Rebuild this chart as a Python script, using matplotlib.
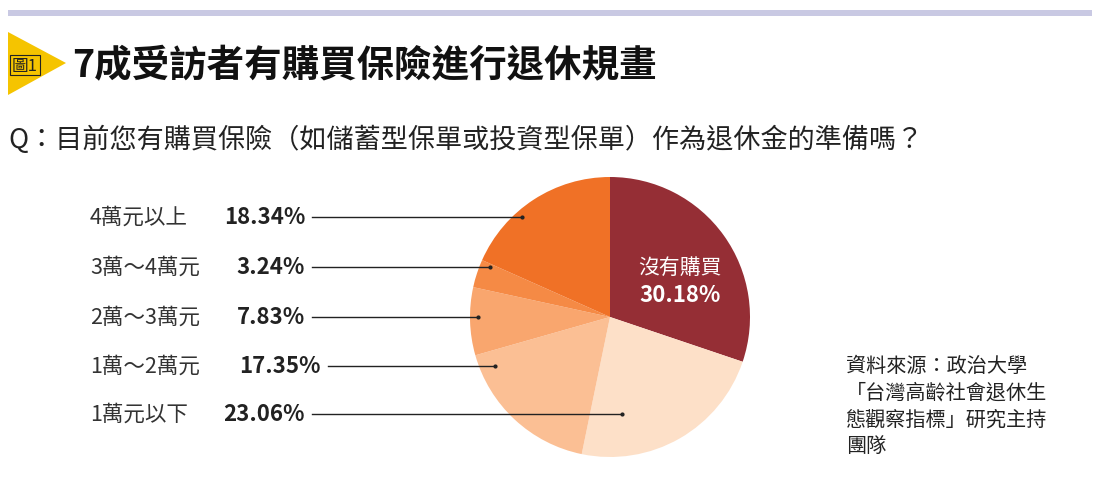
import matplotlib
matplotlib.use("Agg")
import matplotlib.pyplot as plt
from matplotlib.patches import Polygon, Rectangle
from matplotlib.lines import Line2D

plt.rcParams['font.family'] = ['Noto Sans CJK TC', 'DejaVu Sans']

labels = ['沒有購買', '1萬元以下', '1萬～2萬元', '2萬～3萬元', '3萬～4萬元', '4萬元以上']
values = [30.18, 23.06, 17.35, 7.83, 3.24, 18.34]
colors = ['#952e35', '#fde0c8', '#fbbf94', '#f9a66e', '#f58a45', '#f07126']

W, H = 1100, 481
fig = plt.figure(figsize=(11, 4.81), dpi=100)
def fx(x): return x / W
def fy(y): return 1 - y / H

fig.add_artist(Rectangle((fx(8), fy(17)), fx(1084), 6 / H, transform=fig.transFigure,
                         color='#c9c9e3', lw=0))
fig.add_artist(Polygon([(fx(8), fy(33)), (fx(66), fy(64)), (fx(8), fy(96))],
                       transform=fig.transFigure, color='#f5c400', lw=0))
fig.text(fx(12), fy(66), '圖1', fontsize=12, color='#222', va='center', ha='left',
         bbox=dict(boxstyle='square,pad=0.1', fc='none', ec='#222', lw=0.8))
fig.text(fx(72), fy(66), '7成受訪者有購買保險進行退休規畫', fontsize=27, fontweight='bold',
         color='#111', va='center', ha='left')
fig.text(fx(8), fy(140), 'Q：目前您有購買保險（如儲蓄型保單或投資型保單）作為退休金的準備嗎？',
         fontsize=19.5, color='#222', va='center', ha='left')

ax = fig.add_axes([fx(470), fy(458), 280 / W, 280 / H])
wedges, _ = ax.pie(values, colors=colors, startangle=90, counterclock=False,
                   wedgeprops=dict(lw=0))
ax.set_aspect('auto')
ax.set_xlim(-1, 1)
ax.set_ylim(-1, 1)

fig.text(fx(680), fy(268), labels[0], fontsize=15, color='white', ha='center', va='center')
fig.text(fx(680), fy(296), f'{values[0]:.2f}%', fontsize=16, fontweight='bold',
         color='white', ha='center', va='center')

layout = [(5, 218, 312, 522), (4, 268, 312, 490), (3, 318, 312, 478),
          (2, 367, 328, 495), (1, 415, 312, 622)]
for i, y, x0, x1 in layout:
    fig.text(fx(x0 - 7), fy(y), f'{values[i]:.2f}%', fontsize=16, fontweight='bold',
             color='#222', ha='right', va='center')
    fig.text(fx(90), fy(y), labels[i], fontsize=15.5, color='#333',
             ha='left', va='center')
    fig.add_artist(Line2D([fx(x0), fx(x1)], [fy(y), fy(y)], transform=fig.transFigure,
                          color='#222', lw=1))
    fig.add_artist(Line2D([fx(x1)], [fy(y)], transform=fig.transFigure, marker='o',
                          ms=2, color='#222'))

src = ['資料來源：政治大學', '「台灣高齡社會退休生', '態觀察指標」研究主持', '團隊']
for k, s in enumerate(src):
    fig.text(fx(846), fy(367 + k * 26.5), s, fontsize=14.5, color='#222',
             ha='left', va='center')

fig.savefig('out.png', dpi=100, facecolor='white')
